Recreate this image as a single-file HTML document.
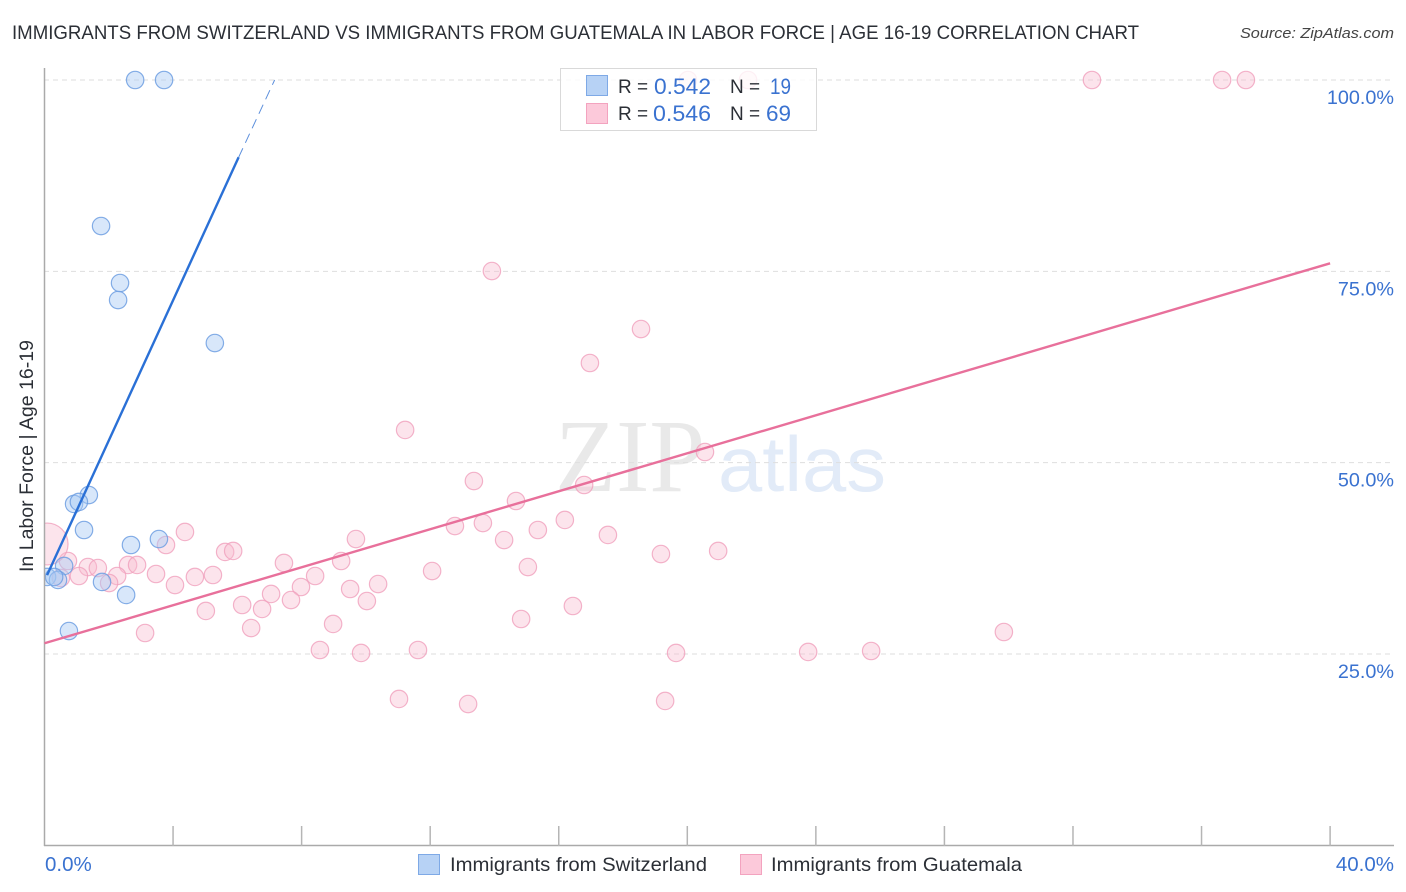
<!DOCTYPE html>
<html lang="en">
<head>
<meta charset="utf-8">
<title>Immigrants from Switzerland vs Immigrants from Guatemala in Labor Force | Age 16-19 Correlation Chart</title>
<style>
html,body{margin:0;padding:0;background:#fff;}
svg{display:block;font-family:"Liberation Sans",sans-serif;}
</style>
</head>
<body>
<svg id="chart" xmlns="http://www.w3.org/2000/svg" width="1406" height="892" viewBox="0 0 1406 892">
<rect x="0" y="0" width="1406" height="892" fill="#fff"/>
<text x="12" y="39" font-size="19.5" fill="#2b2f36" textLength="1127" lengthAdjust="spacingAndGlyphs">IMMIGRANTS FROM SWITZERLAND VS IMMIGRANTS FROM GUATEMALA IN LABOR FORCE | AGE 16-19 CORRELATION CHART</text>
<text x="1394" y="38" font-size="15" font-style="italic" fill="#444" text-anchor="end" textLength="154" lengthAdjust="spacingAndGlyphs">Source: ZipAtlas.com</text>
<g>
<text x="555" y="491" font-family="'Liberation Serif',serif" font-size="104" fill="#e9e9e9" textLength="150" lengthAdjust="spacingAndGlyphs">ZIP</text>
<text x="718" y="491" font-size="78" fill="#e2ebf8" textLength="168" lengthAdjust="spacingAndGlyphs">atlas</text>
</g>
<g id="grid"></g>
<g id="marks"></g>
<rect x="0" y="60" width="44.5" height="786" fill="#fff"/>
<g id="axes"></g>
<g id="lines"></g>
<text transform="translate(33,572) rotate(-90)" font-size="19" fill="#2b2f36" textLength="232" lengthAdjust="spacingAndGlyphs">In Labor Force | Age 16-19</text>
<g>
<rect x="560.5" y="68.5" width="256" height="62" fill="#fff" fill-opacity="0.8" stroke="#d9d9d9"/>
<rect x="586.5" y="75.5" width="21" height="20" fill="#b7d2f5" stroke="#7ea9e6"/>
<rect x="586.5" y="103.5" width="21" height="20" fill="#fcc9da" stroke="#f3a3bf"/>
<text x="618" y="93" font-size="19" fill="#2b2f36">R =</text>
<text x="654" y="94" font-size="22" fill="#3a72d0" textLength="57" lengthAdjust="spacingAndGlyphs">0.542</text>
<text x="730" y="93" font-size="19" fill="#2b2f36">N =</text>
<text x="770" y="94" font-size="22" fill="#3a72d0" textLength="21" lengthAdjust="spacingAndGlyphs">19</text>
<text x="618" y="120" font-size="19" fill="#2b2f36">R =</text>
<text x="653" y="121" font-size="22" fill="#3a72d0" textLength="58" lengthAdjust="spacingAndGlyphs">0.546</text>
<text x="730" y="120" font-size="19" fill="#2b2f36">N =</text>
<text x="766" y="121" font-size="22" fill="#3a72d0" textLength="25" lengthAdjust="spacingAndGlyphs">69</text>
</g>
<g>
<rect x="418.5" y="854.5" width="21" height="20" fill="#b7d2f5" stroke="#7ea9e6"/>
<text x="450" y="871" font-size="19.5" fill="#2b2f36" textLength="257" lengthAdjust="spacingAndGlyphs">Immigrants from Switzerland</text>
<rect x="740.5" y="854.5" width="21" height="20" fill="#fcc9da" stroke="#f3a3bf"/>
<text x="771" y="871" font-size="19.5" fill="#2b2f36" textLength="251" lengthAdjust="spacingAndGlyphs">Immigrants from Guatemala</text>
</g>
</svg>
<script>
const xTickValues = [0, 4, 8, 12, 16, 20, 24, 28, 32, 36, 40];
const xTickLabels = ["0.0%", "", "", "", "", "", "", "", "", "", "40.0%"];
const yTickValues = [25, 50, 75, 100];
const yTickLabels = ["25.0%", "50.0%", "75.0%", "100.0%"];

const switzerlandX = [2.82,3.72,1.76,2.35,2.29,5.30,1.38,0.92,1.07,1.23,2.69,3.56,0.61,0.08,0.42,0.30,1.79,2.54,0.76];
const switzerlandY = [100,100,80.92,73.47,71.25,65.63,45.77,44.60,44.86,41.20,39.24,40.02,36.50,35.06,34.67,35.06,34.41,32.71,28.00];

const guatemalaX = [20.02,21.89,32.59,36.64,37.38,13.92,18.56,16.97,11.22,20.55,13.36,16.79,14.67,12.77,13.64,16.19,15.35,14.30,17.53,4.37,3.78,9.69,5.62,5.87,19.18,20.96,7.45,9.23,15.04,12.06,1.35,1.66,2.60,2.88,2.26,2.01,1.07,0.73,0.51,3.47,4.06,4.68,5.24,8.42,10.38,9.51,7.05,7.98,7.67,6.15,6.77,10.03,5.02,16.44,14.83,8.98,6.43,3.13,29.85,8.57,9.85,11.62,19.65,23.76,25.72,11.03,13.18,19.31,0.08];
const guatemalaY = [100,100,100,100,100,75.04,67.46,63.02,54.27,51.39,47.60,47.08,44.99,41.72,42.11,42.51,41.20,39.89,40.55,40.94,39.24,40.02,38.33,38.46,38.06,38.46,36.89,37.15,36.36,35.84,36.36,36.23,36.63,36.63,35.19,34.27,35.19,37.15,34.93,35.45,34.01,35.06,35.32,35.19,34.14,33.49,32.84,33.75,32.05,31.40,30.88,31.92,30.62,31.27,29.57,28.92,28.39,27.74,27.87,25.52,25.13,25.52,25.13,25.26,25.39,19.12,18.46,18.86,39.37];
const guatemalaSizes = [1,1,1,1,1,1,1,1,1,1,1,1,1,1,1,1,1,1,1,1,1,1,1,1,1,1,1,1,1,1,1,1,1,1,1,1,1,1,1,1,1,1,1,1,1,1,1,1,1,1,1,1,1,1,1,1,1,1,1,1,1,1,1,1,1,1,1,1,5.8];

const switzerlandTrendX = [0.08, 6.04];
const switzerlandTrendY = [35.3, 89.9];
const switzerlandDashX = [6.04, 7.16];
const switzerlandDashY = [89.9, 100];
const guatemalaTrendX = [0, 40];
const guatemalaTrendY = [26.4, 76.05];

const SVGNS = "http://www.w3.org/2000/svg";
function xScale(v) { return 44.5 + v * 32.14; }
function yScale(v) { return 845.3 - v * 7.653; }
function make(parent, tag, attrs) {
  const el = document.createElementNS(SVGNS, tag);
  for (const k in attrs) el.setAttribute(k, attrs[k]);
  parent.appendChild(el);
  return el;
}

const grid = document.getElementById("grid");
const axes = document.getElementById("axes");
const marks = document.getElementById("marks");
const lines = document.getElementById("lines");

yTickValues.forEach(function (v, i) {
  const g = make(grid, "line", {x1: 44, x2: 1394, y1: yScale(v), y2: yScale(v), stroke: "#dedede", "stroke-width": 1, "stroke-dasharray": "5 4"});
  
  
  const t = make(axes, "text", {x: 1394, y: yScale(v) + 24, "text-anchor": "end", "font-size": 19.8, fill: "#3a72d0"});
  t.textContent = yTickLabels[i];
  
  
});

const yAxis = make(axes, "line", {x1: 44.5, x2: 44.5, y1: 68, y2: 846, stroke: "#aaa", "stroke-width": 1.5});


const xAxis = make(axes, "line", {x1: 44, x2: 1394, y1: 845.5, y2: 845.5, stroke: "#aaa", "stroke-width": 1.5});



xTickValues.forEach(function (v, i) {
  if (i > 0) {
    const tk = make(axes, "line", {x1: xScale(v), x2: xScale(v), y1: 826, y2: 846, stroke: "#b5b5b5", "stroke-width": 1.5});
    
    
  }
  if (xTickLabels[i]) {
    const t = make(axes, "text", {x: i === 0 ? 45 : 1394, y: 871, "text-anchor": i === 0 ? "start" : "end", "font-size": 20.5, fill: "#3a72d0"});
    t.textContent = xTickLabels[i];
    
    
  }
});

guatemalaX.forEach(function (v, i) {
  const c = make(marks, "circle", {cx: xScale(v), cy: yScale(guatemalaY[i]), r: 8.7 * Math.sqrt(guatemalaSizes[i]) , fill: "#f8bbd0", "fill-opacity": 0.4, stroke: "#f0a0bd", "stroke-opacity": 0.8, "stroke-width": 1.2});
  
  
});
switzerlandX.forEach(function (v, i) {
  const c = make(marks, "circle", {cx: xScale(v), cy: yScale(switzerlandY[i]), r: 8.7, fill: "#a9c9f3", "fill-opacity": 0.45, stroke: "#6f9fe2", "stroke-opacity": 0.85, "stroke-width": 1.2});
  
  
});

const l1 = make(lines, "line", {x1: xScale(guatemalaTrendX[0]), y1: yScale(guatemalaTrendY[0]), x2: xScale(guatemalaTrendX[1]), y2: yScale(guatemalaTrendY[1]), stroke: "#e8709b", "stroke-width": 2.4});


const l2 = make(lines, "line", {x1: xScale(switzerlandTrendX[0]), y1: yScale(switzerlandTrendY[0]), x2: xScale(switzerlandTrendX[1]), y2: yScale(switzerlandTrendY[1]), stroke: "#2a70d6", "stroke-width": 2.4});


const l3 = make(lines, "line", {x1: xScale(switzerlandDashX[0]), y1: yScale(switzerlandDashY[0]), x2: xScale(switzerlandDashX[1]), y2: yScale(switzerlandDashY[1]), stroke: "#5c8fdc", "stroke-width": 1, "stroke-dasharray": "10 6"});


</script>
</body>
</html>
